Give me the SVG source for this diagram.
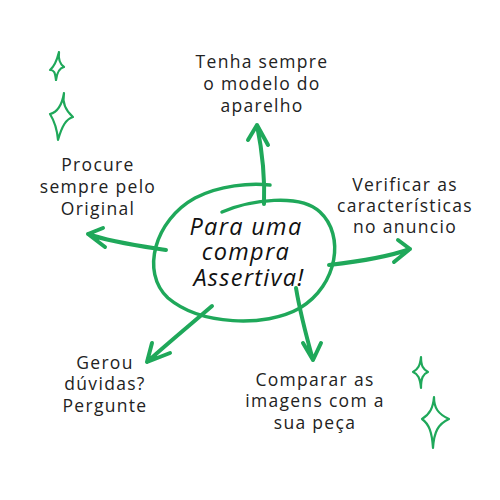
<svg xmlns="http://www.w3.org/2000/svg" width="500" height="500" viewBox="0 0 500 500">
<style>
.lbl{font-family:"Open Sans","DejaVu Sans",sans-serif;font-size:17.5px;fill:#222;text-anchor:middle;letter-spacing:1.3px}
.ctr{font-family:"Open Sans","DejaVu Sans",sans-serif;font-size:23.5px;font-style:italic;fill:#111;text-anchor:middle;letter-spacing:1.3px}
.g{fill:none;stroke:#1fa85a;stroke-linecap:round;stroke-linejoin:round}
.sp{fill:none;stroke:#1fa85a;stroke-width:2.2;stroke-linejoin:round}
</style>
<rect width="500" height="500" fill="#fff"/>
<g id="center">
<path class="g" stroke-width="3.5" d="M222,212 C250,200 300,193 320,212 C345,235 338,285 300,308 C265,328 200,325 168,298 C140,272 155,220 195,198 C220,185 250,183 270,185"/>
<text class="ctr" x="246" y="235">Para uma</text>
<text class="ctr" x="246" y="260">compra</text>
<text class="ctr" x="249" y="286">Assertiva!</text>
</g>
<g id="connectors">
<path class="g" stroke-width="4" d="M264,204 C265,180 262,150 257,125 M248,140 L257,125 L268,145"/>
<path class="g" stroke-width="4" d="M166,250 C140,246 110,242 88,234 M103,228 L88,234 L105,247"/>
<path class="g" stroke-width="4" d="M329,265 C355,262 385,258 410,249 M398,240 L410,249 L394,262"/>
<path class="g" stroke-width="4" d="M212,306 C190,325 168,343 147,362 M152,343 L147,362 L170,353"/>
<path class="g" stroke-width="4" d="M296,288 C300,312 306,335 313,360 M303,343 L313,360 L321,343"/>
</g>
<g id="n-top">
<text class="lbl" x="262" y="68">Tenha sempre</text>
<text class="lbl" x="262" y="90">o modelo do</text>
<text class="lbl" x="262" y="112">aparelho</text>
</g>
<g id="n-left">
<text class="lbl" x="98" y="171">Procure</text>
<text class="lbl" x="98" y="193">sempre pelo</text>
<text class="lbl" x="98" y="215">Original</text>
</g>
<g id="n-right">
<text class="lbl" x="405" y="191">Verificar as</text>
<text class="lbl" x="405" y="212">características</text>
<text class="lbl" x="405" y="233">no anuncio</text>
</g>
<g id="n-bl">
<text class="lbl" x="105" y="369">Gerou</text>
<text class="lbl" x="105" y="390">dúvidas?</text>
<text class="lbl" x="105" y="412">Pergunte</text>
</g>
<g id="n-br">
<text class="lbl" x="315" y="386">Comparar as</text>
<text class="lbl" x="315" y="407">imagens com a</text>
<text class="lbl" x="315" y="429">sua peça</text>
</g>
<g id="sparkles">
<path class="sp" d="M59,52 C58,60 60,64 64,67 C60,68 57,72 56,80 C55,72 54,70 50,70 C55,66 57,60 59,52 Z"/>
<path class="sp" d="M64,93 C62,103 65,110 73,117 C66,119 62,126 58,140 C57,128 55,122 50,114 C58,112 62,105 64,93 Z"/>
<path class="sp" d="M421,357 C421,366 423,369 428,372 C423,374 421,378 421,388 C420,378 418,374 413,372 C418,369 420,366 421,357 Z"/>
<path class="sp" d="M434,397 C434,408 438,414 449,419 C438,424 434,432 433,448 C432,432 429,424 422,419 C430,414 433,408 434,397 Z"/>
</g>
</svg>
